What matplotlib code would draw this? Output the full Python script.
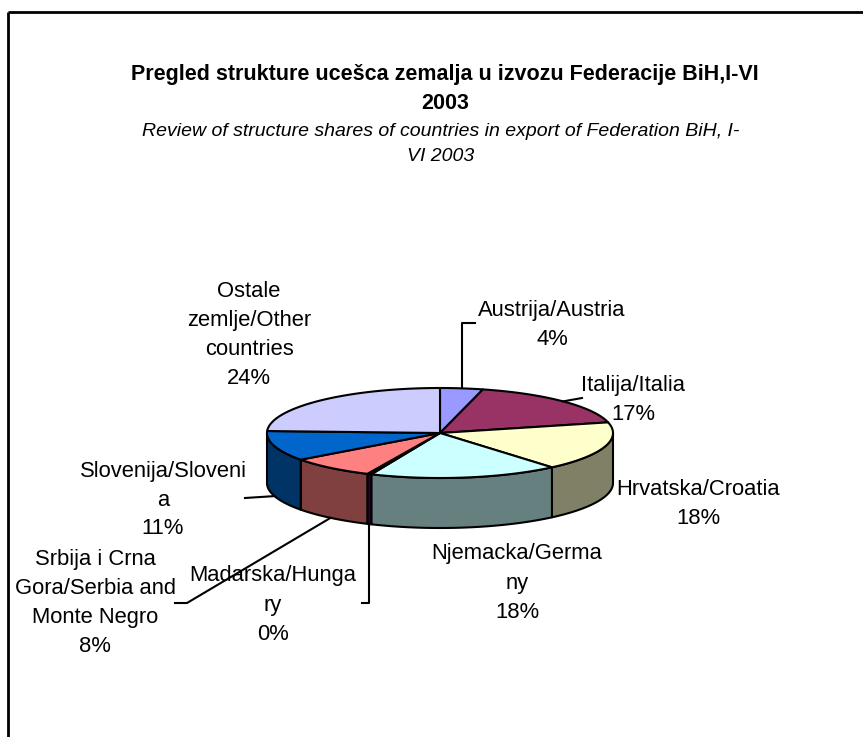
import numpy as np
import matplotlib
matplotlib.use("Agg")
import matplotlib.pyplot as plt
from matplotlib.patches import Polygon

plt.rcParams["font.family"] = ["Liberation Sans", "DejaVu Sans"]

# slices, clockwise from 12 o'clock
names = ["Austrija/Austria", "Italija/Italia", "Hrvatska/Croatia",
         "Njemacka/Germa\nny", "Madarska/Hunga\nry",
         "Srbija i Crna\nGora/Serbia and\nMonte Negro",
         "Slovenija/Sloveni\na", "Ostale\nzemlje/Other\ncountries"]
shares = [4.0, 17.2, 17.6, 17.7, 0.4, 8.0, 10.8, 24.3]
top_colors = ["#9999FF", "#993366", "#FFFFCC", "#CCFFFF",
              "#660066", "#FF8080", "#0066CC", "#CCCCFF"]
side_colors = ["#4D4D80", "#4D1A33", "#808066", "#668080",
               "#330033", "#804040", "#003366", "#666680"]

title = "Pregled strukture ucešca zemalja u izvozu Federacije BiH,I-VI\n2003"
subtitle = "Review of structure shares of countries in export of Federation BiH, I-\nVI 2003"

# pie geometry in pixels
CX, CY, A, B, DEPTH = 440, 433, 173, 45, 50

# label block centres
label_pos = [(552, 325), (633, 400), (698, 504), (517, 583),
             (273, 605), (95, 603), (163, 500), (249, 335)]


def pt(theta, down=0.0):
    t = np.radians(theta)
    return CX + A * np.sin(t), CY - B * np.cos(t) + down


fig = plt.figure(figsize=(8.63, 7.37), dpi=100)
ax = fig.add_axes([0, 0, 1, 1])
ax.set_xlim(0, 863)
ax.set_ylim(737, 0)
ax.axis("off")

# frame (cut off at right and bottom like the source)
ax.plot([8, 870], [12, 12], color="black", lw=2, solid_capstyle="butt")
ax.plot([8, 8], [12, 745], color="black", lw=2, solid_capstyle="butt")

ax.text(445, 89, title, ha="center", va="center", fontsize=15.5,
        fontweight="bold", linespacing=1.45)
ax.text(441, 144, subtitle, ha="center", va="center", fontsize=14,
        style="italic", linespacing=1.6)

bounds = np.concatenate([[0], np.cumsum(shares) / sum(shares) * 360])

# side walls (front half only)
for i in range(len(shares)):
    s, e = max(bounds[i], 90), min(bounds[i + 1], 270)
    if e <= s:
        continue
    th = np.linspace(s, e, 80)
    upper = [pt(t) for t in th]
    lower = [pt(t, DEPTH) for t in th[::-1]]
    ax.add_patch(Polygon(upper + lower, closed=True, facecolor=side_colors[i],
                         edgecolor="black", lw=1.5, joinstyle="round"))

# top faces
for i in range(len(shares)):
    th = np.linspace(bounds[i], bounds[i + 1], 120)
    verts = [(CX, CY)] + [pt(t) for t in th]
    ax.add_patch(Polygon(verts, closed=True, facecolor=top_colors[i],
                         edgecolor="black", lw=1.5, joinstyle="round"))

# labels
for i, (name, v) in enumerate(zip(names, shares)):
    x, y = label_pos[i]
    ax.text(x, y, f"{name}\n{round(v)}%", ha="center", va="center",
            fontsize=15.8, linespacing=1.5, multialignment="center")

# leader lines
mid = (bounds[:-1] + bounds[1:]) / 2
leaders = {
    0: (False, [(None, 323), (475, 323)]),
    1: (False, [(582, 398)]),
    4: (True, [(None, 603), (362, 603)]),
    5: (True, [(187, 603), (175, 603)]),
    6: (True, [(245, 498)]),
}
for i, (bottom, pts) in leaders.items():
    x0, y0 = pt(mid[i], DEPTH if bottom else 0)
    xs, ys = [x0], [y0]
    for px, py in pts:
        xs.append(x0 if px is None else px)
        ys.append(py)
    ax.plot(xs, ys, color="black", lw=1.5)

fig.savefig("out.png", dpi=100)
